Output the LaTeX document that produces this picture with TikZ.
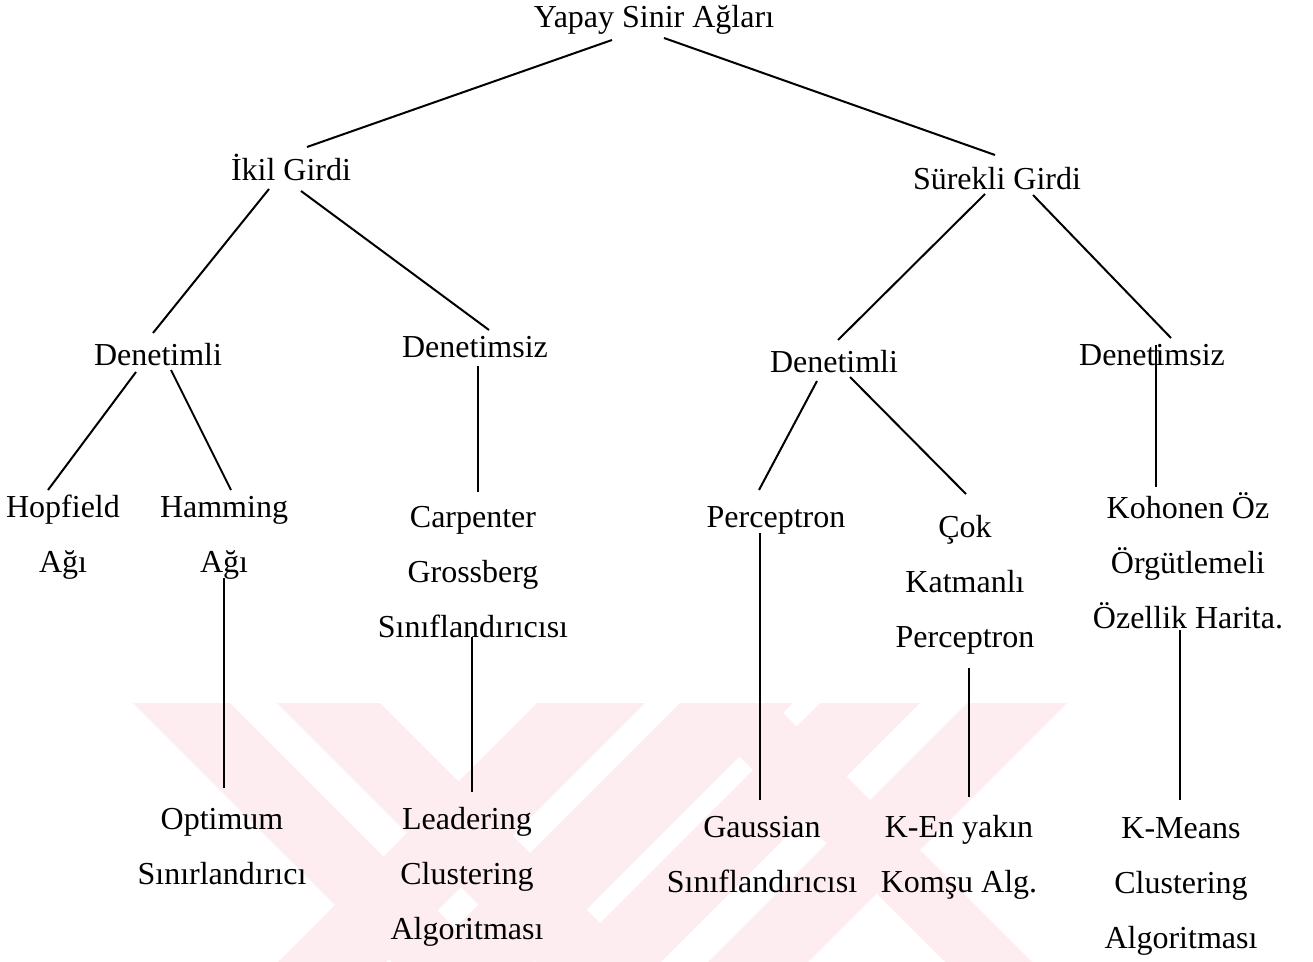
\documentclass[tikz,border=0pt]{standalone}
\usepackage{fontspec}
\setmainfont{Liberation Serif}
\usetikzlibrary{calc}
\definecolor{wm}{RGB}{253,237,241}
\begin{document}
\begin{tikzpicture}[x=0.75pt,y=-0.75pt,
  lbl/.style={inner sep=0pt,anchor=base,align=center,font=\fontsize{24}{41.25}\selectfont},
  conn/.style={line width=1.5pt,black}]
\useasboundingbox (0,0) rectangle (1313,962);
% watermark
\begin{scope}
\clip (130,703) rectangle (1067,962);
\foreach \a/\b in {133/230,277/380,686/773}{
  \fill[wm] (\a,703) -- (\b,703) -- (\b+259,962) -- (\a+259,962) -- cycle;}
\foreach \a/\b in {537/645,680/793,820/920,967/1067}{
  \fill[wm] (\a,703) -- (\b,703) -- (\b-259,962) -- (\a-259,962) -- cycle;}
\end{scope}
% nodes (anchor = baseline of the last line)
\node[lbl] (root) at (654,28) {Yapay Sinir Ağları};
\node[lbl] (ikil) at (291,181) {İkil Girdi};
\node[lbl] (surekli) at (997,190) {Sürekli Girdi};
\node[lbl] (den1) at (158,365) {Denetimli};
\node[lbl] (densiz1) at (475,358) {Denetimsiz};
\node[lbl] (den2) at (834,373) {Denetimli};
\node[lbl] (densiz2) at (1152,365) {Denetimsiz};
\node[lbl] (hop) at (63,572) {Hopfield\\Ağı};
\node[lbl] (ham) at (224,572) {Hamming\\Ağı};
\node[lbl] (carp) at (473,637) {Carpenter\\Grossberg\\Sınıflandırıcısı};
\node[lbl] (perc) at (776,527) {Perceptron};
\node[lbl] (cok) at (965,647) {Çok\\Katmanlı\\Perceptron};
\node[lbl] (koh) at (1188,628) {Kohonen Öz\\Örgütlemeli\\Özellik Harita.};
\node[lbl] (opt) at (222,884) {Optimum\\Sınırlandırıcı};
\node[lbl] (lead) at (467,939) {Leadering\\Clustering\\Algoritması};
\node[lbl] (gauss) at (762,892) {Gaussian\\Sınıflandırıcısı};
\node[lbl] (ken) at (959,892) {K-En yakın\\Komşu Alg.};
\node[lbl] (kmeans) at (1181,948) {K-Means\\Clustering\\Algoritması};
% connectors
\draw[conn] ($(root.base)+(-42,12)$) -- ($(ikil.base)+(16,-34)$);
\draw[conn] ($(root.base)+(10,10)$) -- ($(surekli.base)+(-2,-35)$);
\draw[conn] ($(ikil.base)+(-22,8)$) -- ($(den1.base)+(-5,-32)$);
\draw[conn] ($(ikil.base)+(10,10)$) -- ($(densiz1.base)+(14,-28)$);
\draw[conn] ($(surekli.base)+(-12,4)$) -- ($(den2.base)+(4,-33)$);
\draw[conn] ($(surekli.base)+(36,5)$) -- ($(densiz2.base)+(19,-27)$);
\draw[conn] ($(den1.base)+(-22,7)$) -- ($(hop.base)+(-15,-82)$);
\draw[conn] ($(den1.base)+(13,5)$) -- ($(ham.base)+(7,-82)$);
\draw[conn] ($(densiz1.base)+(3,8)$) -- ($(carp.base)+(5,-145)$);
\draw[conn] ($(den2.base)+(-17,8)$) -- ($(perc.base)+(-17,-37)$);
\draw[conn] ($(den2.base)+(16,4)$) -- ($(cok.base)+(1,-153)$);
\draw[conn] ($(densiz2.base)+(4,-20)$) -- ($(koh.base)+(-32,-141)$);
\draw[conn] ($(ham.base)+(0,6)$) -- ($(opt.base)+(2,-96)$);
\draw[conn] ($(carp.base)+(-1,0)$) -- ($(lead.base)+(5,-147)$);
\draw[conn] ($(perc.base)+(-16,6)$) -- ($(gauss.base)+(-2,-92)$);
\draw[conn] ($(cok.base)+(4,21)$) -- ($(ken.base)+(10,-95)$);
\draw[conn] ($(koh.base)+(-8,2)$) -- ($(kmeans.base)+(-1,-148)$);
\end{tikzpicture}
\end{document}
